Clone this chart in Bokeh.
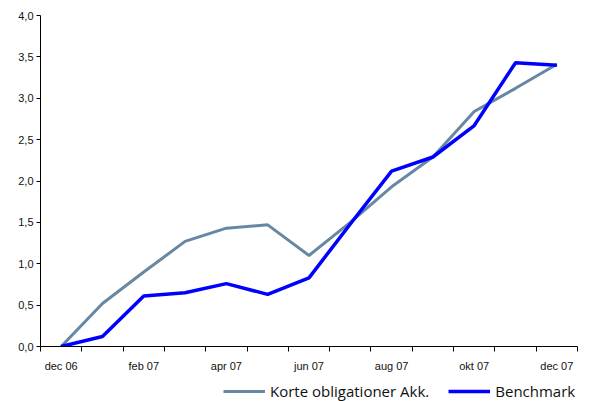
from bokeh.plotting import figure
from bokeh.layouts import column
from bokeh.models import FixedTicker, CustomJSTickFormatter, Range1d, Legend, LegendItem, ColumnDataSource
from bokeh.embed import file_html
from bokeh.resources import INLINE

months = ["dec 06", "jan 07", "feb 07", "mar 07", "apr 07", "maj 07", "jun 07",
          "jul 07", "aug 07", "sep 07", "okt 07", "nov 07", "dec 07"]
korte = [0.0, 0.52, 0.90, 1.27, 1.43, 1.47, 1.10, 1.50, 1.93, 2.29, 2.84, 3.12, 3.41]
bench = [0.0, 0.12, 0.61, 0.65, 0.76, 0.63, 0.83, 1.48, 2.12, 2.29, 2.67, 3.43, 3.40]
y_ticks = [0.0, 0.5, 1.0, 1.5, 2.0, 2.5, 3.0, 3.5, 4.0]
series_names = ["Korte obligationer Akk.", "Benchmark"]
series_colors = ["#6688A4", "#0000FF"]

xpos = [i + 0.5 for i in range(len(months))]
src = ColumnDataSource(dict(x=xpos, korte=korte, bench=bench))

p = figure(width=592, height=375, output_backend="svg", toolbar_location=None,
           x_range=Range1d(0, len(months)), y_range=Range1d(0, 4.0),
           min_border_left=40, min_border_right=15, min_border_top=15,
           min_border_bottom=29)
p.outline_line_color = None
p.xgrid.visible = False
p.ygrid.visible = False

r1 = p.line("x", "korte", source=src, line_color=series_colors[0], line_width=3)
r2 = p.line("x", "bench", source=src, line_color=series_colors[1], line_width=3.5)

label_pos = [xpos[i] for i in range(0, len(months), 2)]
p.xaxis.ticker = FixedTicker(ticks=label_pos, minor_ticks=list(range(len(months) + 1)))
p.xaxis.major_label_overrides = {xpos[i]: months[i] for i in range(0, len(months), 2)}
p.xaxis.major_tick_out = 0
p.xaxis.major_tick_in = 0
p.xaxis.minor_tick_out = 5
p.xaxis.minor_tick_in = 0
p.xaxis.minor_tick_line_color = "black"
p.xaxis.axis_line_color = "black"
p.xaxis.major_label_text_font = "Liberation Sans"
p.xaxis.major_label_text_font_size = "11px"
p.xaxis.major_label_text_color = "#111111"
p.xaxis.major_label_standoff = 8

p.yaxis.ticker = FixedTicker(ticks=y_ticks)
p.yaxis.formatter = CustomJSTickFormatter(code="return tick.toFixed(1).replace('.', ',');")
p.yaxis.minor_tick_line_color = None
p.yaxis.major_tick_out = 4
p.yaxis.major_tick_in = 0
p.yaxis.axis_line_color = "black"
p.yaxis.major_tick_line_color = "black"
p.yaxis.major_label_text_font = "Liberation Sans"
p.yaxis.major_label_text_font_size = "11px"
p.yaxis.major_label_text_color = "#111111"
p.yaxis.major_label_standoff = 3

# legend strip below the chart (its lines use the same data, out of view)
lf = figure(width=592, height=26, output_backend="svg", toolbar_location=None,
            x_range=Range1d(0, len(months)), y_range=Range1d(100, 101),
            x_axis_type=None, y_axis_type=None,
            min_border_left=0, min_border_right=0, min_border_top=0, min_border_bottom=0)
lf.outline_line_color = None
lf.xgrid.visible = False
lf.ygrid.visible = False
l1 = lf.line("x", "korte", source=src, line_color=series_colors[0], line_width=3)
l2 = lf.line("x", "bench", source=src, line_color=series_colors[1], line_width=3.5)

legend = Legend(items=[LegendItem(label=series_names[0], renderers=[l1]),
                       LegendItem(label=series_names[1], renderers=[l2])],
                orientation="horizontal", location=(183, 0),
                label_text_font="Open Sans", label_text_font_size="15px",
                label_text_color="#111111", label_height=18,
                glyph_width=42, glyph_height=18, spacing=19, padding=0, margin=0,
                label_standoff=5, border_line_color=None, background_fill_alpha=0)
lf.add_layout(legend, "center")

open("out.html", "w").write(file_html(column(p, lf, spacing=0), INLINE))
